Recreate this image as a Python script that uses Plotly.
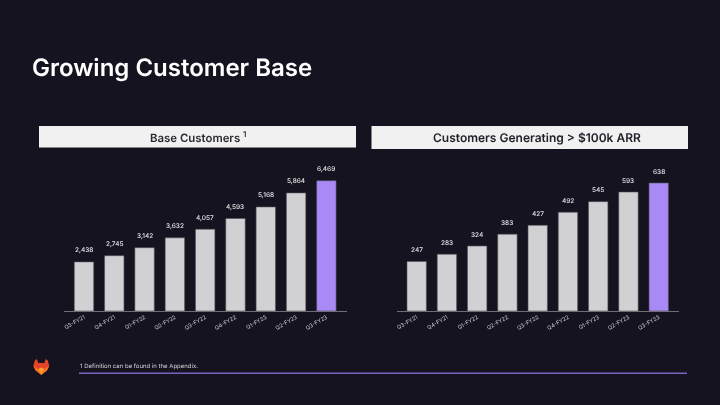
import plotly.graph_objects as go

quarters = ["Q3-FY21", "Q4-FY21", "Q1-FY22", "Q2-FY22", "Q3-FY22", "Q4-FY22", "Q1-FY23", "Q2-FY23", "Q3-FY23"]
base_customers = [2438, 2745, 3142, 3632, 4057, 4593, 5168, 5864, 6469]
large_customers = [247, 283, 324, 383, 427, 492, 545, 593, 638]

BG = "#15131f"
GREY = "#d1d0d3"
PURPLE = "#a989f5"
W, H = 720, 405
FONT = "Inter"


def px(v):
    return v / W


def py(v):
    return 1 - v / H


colors = [GREY] * 8 + [PURPLE]
fig = go.Figure()
fig.add_trace(go.Bar(x=quarters, y=base_customers, marker=dict(color=colors, line=dict(color="#55535c", width=0.6)),
                     width=0.64, xaxis="x", yaxis="y", showlegend=False))
fig.add_trace(go.Bar(x=quarters, y=large_customers, marker=dict(color=colors, line=dict(color="#55535c", width=0.6)),
                     width=0.64, xaxis="x2", yaxis="y2", showlegend=False))

annotations = []
for xref, yref, vals in (("x", "y", base_customers), ("x2", "y2", large_customers)):
    for q, v in zip(quarters, vals):
        annotations.append(dict(x=q, y=v, xref=xref, yref=yref, text=f"{v:,}", showarrow=False,
                                yanchor="bottom", yshift=5.5, font=dict(family=FONT, size=6.5, weight=500, color="#e6e5e8")))

for text, cx, cy, size, weight, col in (
    ("Base Customers <sup>1</sup>", 197.5, 136.5, 11.4, 600, "#2b2a33"),
    ("Customers Generating &gt; $100k ARR", 537, 137.5, 12, 600, "#22212b"),
):
    annotations.append(dict(x=px(cx), y=py(cy), xref="paper", yref="paper", text=text, showarrow=False,
                            xanchor="center", yanchor="middle", font=dict(family=FONT, size=size, weight=weight, color=col)))
annotations.append(dict(x=px(30), y=py(68), xref="paper", yref="paper", text="Growing Customer Base", showarrow=False,
                        xanchor="left", yanchor="middle", font=dict(family=FONT, size=24, weight=600, color="#ffffff")))
annotations.append(dict(x=px(77.5), y=py(366), xref="paper", yref="paper", text="1 Definition can be found in the Appendix.",
                        showarrow=False, xanchor="left", yanchor="middle", font=dict(family=FONT, size=6, color="#d5d4d8")))


def poly(points, color):
    d = "M" + " L".join(f"{px(x):.5f},{py(y):.5f}" for x, y in points) + " Z"
    return dict(type="path", path=d, xref="paper", yref="paper", fillcolor=color, line=dict(width=0), layer="above")


shapes = [
    dict(type="rect", xref="paper", yref="paper", x0=px(39), x1=px(356), y0=py(126), y1=py(147.5),
         fillcolor="#f1f1f1", line=dict(width=0)),
    dict(type="rect", xref="paper", yref="paper", x0=px(371.5), x1=px(688), y0=py(126), y1=py(149),
         fillcolor="#f1f1f1", line=dict(width=0)),
    dict(type="rect", xref="paper", yref="paper", x0=px(79), x1=px(687), y0=py(372.6), y1=py(374),
         fillcolor="#7a62bd", line=dict(width=0)),
    # logo
    poly([(33.3, 366), (34.8, 360.5), (36.8, 359), (38.3, 363), (44.3, 363), (45.8, 359), (47.8, 360.5),
          (49.3, 366), (41.3, 375)], "#e24329"),
    poly([(33.3, 366), (35.5, 370.5), (41.3, 375), (38.3, 369)], "#fc6d26"),
    poly([(49.3, 366), (47.1, 370.5), (41.3, 375), (44.3, 369)], "#fc6d26"),
    poly([(38.3, 369), (41.3, 375), (44.3, 369), (41.3, 367.5)], "#fca326"),
]

tickfont = dict(family=FONT, size=5.5, color="#cfced2")
common_x = dict(type="category", categoryorder="array", categoryarray=quarters, showgrid=False, zeroline=False,
                showline=True, linecolor="#6f6d76", linewidth=1, ticks="", tickangle=-30, tickfont=tickfont,
                ticklen=0, automargin=False)
xa1 = dict(common_x, domain=[px(63.5), px(347)], range=[-0.676, 8.68], anchor="y")
xa2 = dict(common_x, domain=[px(396.7), px(679)], range=[-0.66, 8.67], anchor="y2")
y_dom = [py(311), py(165)]
ya1 = dict(domain=y_dom, range=[0, 6469 * 146 / 130.3], visible=False, anchor="x", automargin=False)
ya2 = dict(domain=y_dom, range=[0, 638 * 146 / 128], visible=False, anchor="x2", automargin=False)

fig.update_layout(
    width=W, height=H, autosize=False, margin=dict(l=0, r=0, t=0, b=0),
    paper_bgcolor=BG, plot_bgcolor=BG, showlegend=False,
    xaxis=xa1, xaxis2=xa2, yaxis=ya1, yaxis2=ya2,
    annotations=annotations, shapes=shapes, font=dict(family=FONT),
)
fig.write_html("out.html", config={"displayModeBar": False, "responsive": False},
               post_script="document.body.style.margin='0';document.body.style.background='" + BG + "';document.documentElement.style.overflow='hidden';"
               "document.querySelectorAll('.main-svg').forEach(function(s){s.style.willChange='transform';s.style.textRendering='geometricPrecision';});")
